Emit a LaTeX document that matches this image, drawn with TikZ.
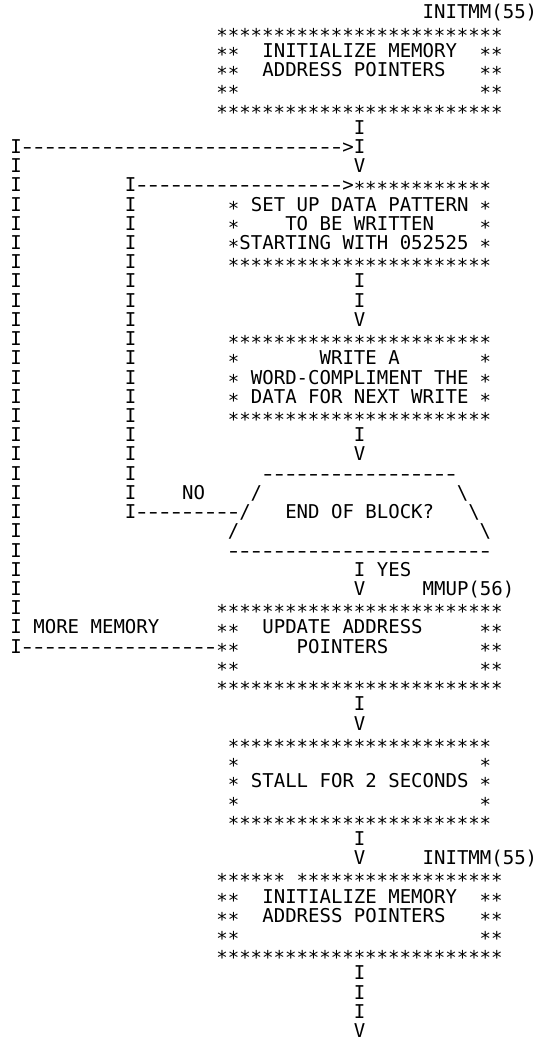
\documentclass[tikz,border=0pt]{standalone}
\usepackage{fontspec}
\setmonofont{DejaVu Sans Mono}
\usepackage{tikz}
\tikzset{>=latex}
\tikzset{
  lp/.style={inner sep=0pt, text height=13.9pt, text depth=0pt,
    font=\ttfamily\fontsize{19.02pt}{19.02pt}\selectfont},
  ch/.style={lp, anchor=base, yshift=-6.9pt},
  ast/.style={lp, anchor=base, yshift=-11pt},
  txt/.style={lp, anchor=base west, xshift=-5.725pt, yshift=-6.9pt}
}
% one printed character in every cell of a run
\newcommand{\starrow}[3]{\foreach \cx in {#2,...,#3} \node[ast] (s#1-\cx) at (\cx,#1) {*};}
\newcommand{\dashrow}[3]{\foreach \cx in {#2,...,#3} \node[ch] (d#1-\cx) at (\cx,#1) {\scalebox{1.4}[1]{-}};}
\newcommand{\barcol}[3]{\foreach \ry in {#2,...,#3} \node[ch] (i#1-\ry) at (#1,\ry) {I};}

\begin{document}
\begin{tikzpicture}[x=11.45pt, y=-19.22pt]
  \useasboundingbox (-1.397,-0.624) rectangle (45.502,53.486);
  % first INITMM box
  \node[txt] (initmm) at (36,0) {INITMM(55)};
  \starrow{1}{18}{42} \starrow{5}{18}{42}
  \foreach \ry in {2,3,4} {\starrow{\ry}{18}{19} \starrow{\ry}{41}{42}}
  \node[txt] (init) at (22,2) {INITIALIZE MEMORY};
  \node[txt] (initb) at (22,3) {ADDRESS POINTERS};
  \node[ch] (f6) at (30,6) {I};
  % outer loop (more memory)
  \barcol{0}{7}{33}
  \dashrow{7}{1}{28}
  \node[ch] (a7) at (29,7) {>};
  \node[ch] (f7) at (30,7) {I};
  \node[ch] (v8) at (30,8) {V};
  % inner loop (not end of block)
  \barcol{10}{9}{26}
  \dashrow{9}{11}{28}
  \node[ch] (a9) at (29,9) {>};
  % set up data pattern
  \starrow{9}{30}{41} \starrow{13}{19}{41}
  \foreach \ry in {10,11,12} {\starrow{\ry}{19}{19} \starrow{\ry}{41}{41}}
  \node[txt] (setup) at (21,10) {SET UP DATA PATTERN};
  \node[txt] (setupb) at (24,11) {TO BE WRITTEN};
  \node[txt] (setupc) at (20,12) {STARTING WITH 052525};
  \barcol{30}{14}{15}
  \node[ch] (v16) at (30,16) {V};
  % write a word
  \starrow{17}{19}{41} \starrow{21}{19}{41}
  \foreach \ry in {18,19,20} {\starrow{\ry}{19}{19} \starrow{\ry}{41}{41}}
  \node[txt] (write) at (27,18) {WRITE A};
  \node[txt] (writeb) at (21,19) {WORD-COMPLIMENT THE};
  \node[txt] (writec) at (21,20) {DATA FOR NEXT WRITE};
  \node[ch] (f22) at (30,22) {I};
  \node[ch] (v23) at (30,23) {V};
  % end of block test
  \dashrow{24}{22}{38}
  \node[ch] (l25) at (21,25) {/};
  \node[ch] (r25) at (39,25) {\textbackslash};
  \node[txt] (no) at (15,25) {NO};
  \dashrow{26}{11}{19}
  \node[ch] (l26) at (20,26) {/};
  \node[ch] (r26) at (40,26) {\textbackslash};
  \node[txt] (test) at (24,26) {END OF BLOCK?};
  \node[ch] (l27) at (19,27) {/};
  \node[ch] (r27) at (41,27) {\textbackslash};
  \dashrow{28}{19}{41}
  \node[ch] (f29) at (30,29) {I};
  \node[txt] (yes) at (32,29) {YES};
  \node[ch] (v30) at (30,30) {V};
  \node[txt] (mmup) at (36,30) {MMUP(56)};
  % update address pointers
  \starrow{31}{18}{42} \starrow{35}{18}{42}
  \foreach \ry in {32,33,34} {\starrow{\ry}{18}{19} \starrow{\ry}{41}{42}}
  \node[txt] (update) at (22,32) {UPDATE ADDRESS};
  \node[txt] (updateb) at (25,33) {POINTERS};
  \node[txt] (more) at (2,32) {MORE MEMORY};
  \dashrow{33}{1}{17}
  \node[ch] (f36) at (30,36) {I};
  \node[ch] (v37) at (30,37) {V};
  % stall
  \starrow{38}{19}{41} \starrow{42}{19}{41}
  \foreach \ry in {39,40,41} {\starrow{\ry}{19}{19} \starrow{\ry}{41}{41}}
  \node[txt] (stall) at (21,40) {STALL FOR 2 SECONDS};
  \node[ch] (f43) at (30,43) {I};
  \node[ch] (v44) at (30,44) {V};
  % second INITMM box
  \node[txt] (initmm2) at (36,44) {INITMM(55)};
  \starrow{45}{18}{23} \starrow{45}{25}{42} \starrow{49}{18}{42}
  \foreach \ry in {46,47,48} {\starrow{\ry}{18}{19} \starrow{\ry}{41}{42}}
  \node[txt] (init2) at (22,46) {INITIALIZE MEMORY};
  \node[txt] (init2b) at (22,47) {ADDRESS POINTERS};
  \barcol{30}{50}{52}
  \node[ch] (v53) at (30,53) {V};
\end{tikzpicture}
\end{document}
